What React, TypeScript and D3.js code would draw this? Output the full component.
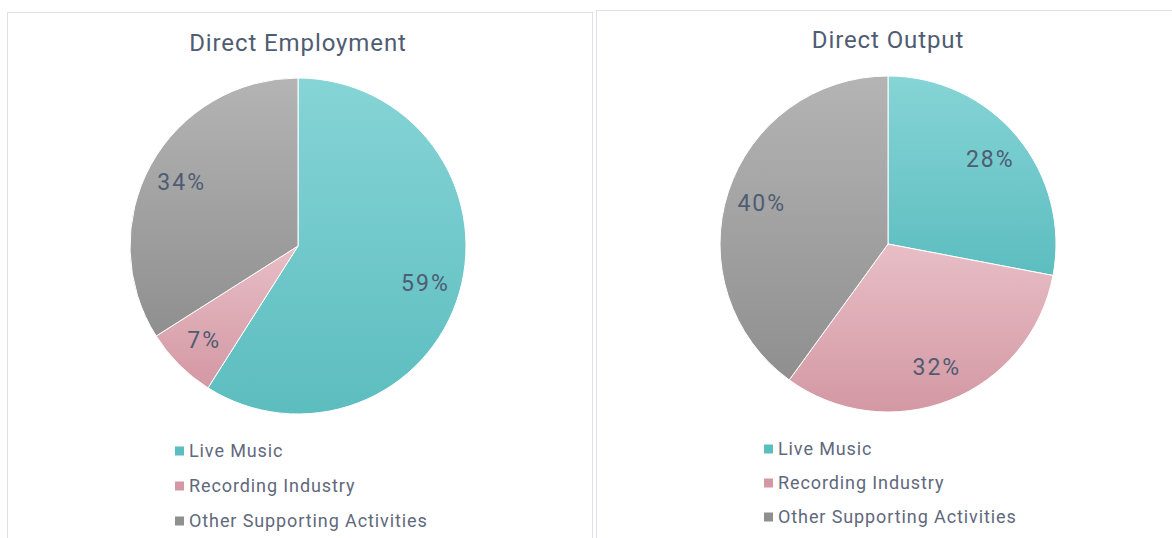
import React, { useEffect, useRef } from 'react'
import * as d3 from 'd3'

const categories = ['Live Music', 'Recording Industry', 'Other Supporting Activities']
const employmentShare = [59, 7, 34]
const outputShare = [28, 32, 40]
const chartTitles = ['Direct Employment', 'Direct Output']

// top / bottom colour of each slice gradient
const topColors = ['#86d4d6', '#e8bec6', '#b4b4b4']
const bottomColors = ['#5cbdbf', '#d398a4', '#8f8f8f']

const width = 1172, height = 538
const textColor = '#4f5c72'
const font = 'Roboto, "DejaVu Sans", sans-serif'

export default function App() {
    const ref = useRef<SVGSVGElement>(null)

    useEffect(() => {
        const svg = d3.select(ref.current)
        svg.selectAll('*').remove()

        const defs = svg.append('defs')
        categories.forEach((c, i) => {
            const g = defs.append('linearGradient')
                .attr('id', 'grad' + i)
                .attr('x1', 0).attr('y1', 0).attr('x2', 0).attr('y2', 1)
            g.append('stop').attr('offset', '0%').attr('stop-color', topColors[i])
            g.append('stop').attr('offset', '100%').attr('stop-color', bottomColors[i])
        })

        // panel borders
        svg.append('rect')
            .attr('x', 7.5).attr('y', 12.5).attr('width', 585).attr('height', 540)
            .attr('fill', 'none').attr('stroke', '#dde1e7')
        svg.append('rect')
            .attr('x', 596.5).attr('y', 10.5).attr('width', 600).attr('height', 540)
            .attr('fill', 'none').attr('stroke', '#dde1e7')

        const panels = [
            { values: employmentShare, cx: 298, cy: 246, titleY: 51, legendX: 175, legendY: 451, step: 35 },
            { values: outputShare, cx: 888, cy: 244, titleY: 48, legendX: 764, legendY: 449, step: 34 },
        ]
        const radius = 168

        const pie = d3.pie<number>().sort(null).value(d => d)
        const arc = d3.arc<d3.PieArcDatum<number>>().innerRadius(0).outerRadius(radius)
        const labelArc = d3.arc<d3.PieArcDatum<number>>().innerRadius(radius * 0.79).outerRadius(radius * 0.79)

        panels.forEach((p, k) => {
            svg.append('text')
                .attr('x', p.cx).attr('y', p.titleY)
                .attr('text-anchor', 'middle')
                .style('font-family', font)
                .style('font-size', '24px')
                .style('letter-spacing', '0.9px')
                .style('fill', textColor)
                .text(chartTitles[k])

            const g = svg.append('g').attr('transform', 'translate(' + p.cx + ',' + p.cy + ')')
            const arcs = pie(p.values)

            g.selectAll('path')
                .data(arcs)
                .enter()
                .append('path')
                .attr('d', arc)
                .attr('fill', (d, i) => 'url(#grad' + i + ')')
                .attr('stroke', '#ffffff')
                .attr('stroke-width', 1)

            g.selectAll('text')
                .data(arcs)
                .enter()
                .append('text')
                .attr('transform', d => 'translate(' + labelArc.centroid(d) + ')')
                .attr('text-anchor', 'middle')
                .attr('dy', '0.35em')
                .style('font-family', font)
                .style('font-size', '23px')
                .style('letter-spacing', '2px')
                .style('fill', textColor)
                .text(d => d.data + '%')

            const legend = svg.append('g')
            categories.forEach((c, i) => {
                legend.append('rect')
                    .attr('x', p.legendX).attr('y', p.legendY + i * p.step - 4.5)
                    .attr('width', 9).attr('height', 9)
                    .attr('fill', bottomColors[i])
                legend.append('text')
                    .attr('x', p.legendX + 14).attr('y', p.legendY + i * p.step)
                    .attr('dy', '0.35em')
                    .style('font-family', font)
                    .style('font-size', '18px')
                    .style('letter-spacing', '0.9px')
                    .style('fill', '#5f697c')
                    .text(c)
            })
        })
    }, [])

    return (
        <svg ref={ref} width={width} height={height}
            style={{ position: 'absolute', left: 0, top: 0, background: '#ffffff' }} />
    )
}
